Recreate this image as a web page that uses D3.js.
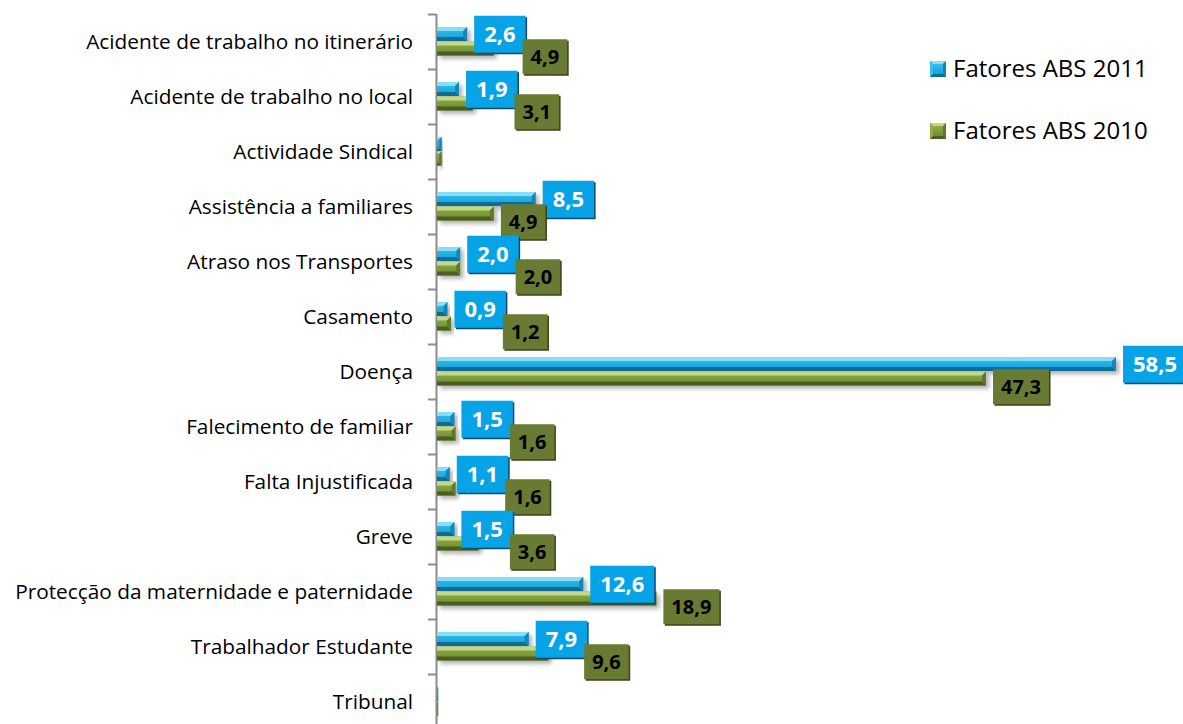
<!DOCTYPE html>
<html>
<head>
<meta charset="utf-8">
<script src="https://cdn.jsdelivr.net/npm/d3@7"></script>
<style>
  body { margin: 0; background: #fff; }
  svg { display: block; }
</style>
</head>
<body>
<div id="chart"></div>
<script>
// data
const categories = [
    "Acidente de trabalho no itinerário",
    "Acidente de trabalho no local",
    "Actividade Sindical",
    "Assistência a familiares",
    "Atraso nos Transportes",
    "Casamento",
    "Doença",
    "Falecimento de familiar",
    "Falta Injustificada",
    "Greve",
    "Protecção da maternidade e paternidade",
    "Trabalhador Estudante",
    "Tribunal"
];
const seriesNames = ["Fatores ABS 2011", "Fatores ABS 2010"];
const values2011 = [2.6, 1.9, 0.4, 8.5, 2.0, 0.9, 58.5, 1.5, 1.1, 1.5, 12.6, 7.9, 0.1];
const values2010 = [4.9, 3.1, 0.4, 4.9, 2.0, 1.2, 47.3, 1.6, 1.6, 3.6, 18.9, 9.6, 0.1];

const width = 1183, height = 724;
const font = "'Open Sans', 'Noto Sans', sans-serif";
const fmt = d3.formatLocale({decimal: ",", thousands: ".", grouping: [3], currency: ["", "€"]}).format(".1f");

const svg = d3.select("#chart").append("svg")
    .attr("width", width)
    .attr("height", height);

let defs = svg.append("defs");
let shadow = defs.append("filter").attr("id", "shadow")
    .attr("x", "-10%").attr("y", "-50%").attr("width", "130%").attr("height", "220%");
shadow.append("feDropShadow")
    .attr("dx", 3).attr("dy", 3).attr("stdDeviation", 2)
    .attr("flood-color", "#000").attr("flood-opacity", 0.3);

defs.append("clipPath").attr("id", "plotClip")
    .append("rect").attr("x", 0).attr("y", 14).attr("width", width).attr("height", height - 14);

// bevel colours for each series: top, face, bottom, end
const styles = [
    {top: "#86def8", faceA: "#33c0ee", faceB: "#149fd6", bottom: "#0c6c98", end: "#1585b8",
     box: "#06a3e6", boxEdge: "#0b4a6a", text: "#fff", size: 22, pad: 20, bh: 37},
    {top: "#c3d888", faceA: "#8fac48", faceB: "#6f8c30", bottom: "#4a5e22", end: "#5f7a2a",
     box: "#697b33", boxEdge: "#3a4519", text: "#000", size: 20, pad: 16, bh: 35}
];

styles.forEach((s, i) => {
    let g = defs.append("linearGradient").attr("id", "face" + i)
        .attr("x1", 0).attr("y1", 0).attr("x2", 0).attr("y2", 1);
    g.append("stop").attr("offset", "0%").attr("stop-color", s.faceA);
    g.append("stop").attr("offset", "100%").attr("stop-color", s.faceB);
});

let x = d3.scaleLinear()
    .domain([0, 58.5])
    .range([437, 1116]);

let y = d3.scaleBand()
    .domain(categories)
    .range([14, 729])
    .padding(0);

let sub = d3.scaleBand()
    .domain([0, 1])
    .range([13, 42])
    .padding(0);

let rows = categories.map((c, i) => ({cat: c, v: [values2011[i], values2010[i]]}));

// axis line, ticks at category boundaries and labels
svg.append("line")
    .attr("x1", 436.5).attr("x2", 436.5)
    .attr("y1", y(categories[0])).attr("y2", height)
    .attr("stroke", "#8c8c8c").attr("stroke-width", 2);

svg.selectAll(".tick").data(categories)
    .enter().append("line")
    .attr("x1", 428).attr("x2", 436)
    .attr("y1", d => y(d) + 0.5)
    .attr("y2", d => y(d) + 0.5)
    .attr("stroke", "#8c8c8c").attr("stroke-width", 2);

svg.selectAll(".catLabel").data(categories)
    .enter().append("text")
    .attr("x", 413)
    .attr("y", d => y(d) + y.bandwidth() / 2)
    .attr("dy", "0.35em")
    .attr("text-anchor", "end")
    .style("font-family", font)
    .style("font-size", "20.8px")
    .attr("fill", "#000")
    .text(d => d);

// bars with a bevelled look
let bars = svg.append("g");
rows.forEach(r => {
    r.v.forEach((v, s) => {
        let st = styles[s];
        let x0 = x(0), x1 = x(v);
        let y0 = y(r.cat) + sub(s), y1 = y0 + sub.bandwidth() - 0.5;
        let w = x1 - x0;
        let b = Math.min(4, w / 2, (y1 - y0) / 3);
        let g = bars.append("g").attr("filter", "url(#shadow)");
        g.append("rect")
            .attr("x", x0).attr("y", y0)
            .attr("width", Math.max(w, 0.5)).attr("height", y1 - y0)
            .attr("fill", "url(#face" + s + ")");
        g.append("polygon")
            .attr("points", [[x0, y0], [x1, y0], [x1 - b, y0 + b], [x0, y0 + b]].join(" "))
            .attr("fill", st.top);
        g.append("polygon")
            .attr("points", [[x0, y1], [x1, y1], [x1 - b, y1 - b], [x0, y1 - b]].join(" "))
            .attr("fill", st.bottom);
        g.append("polygon")
            .attr("points", [[x1, y0], [x1, y1], [x1 - b, y1 - b], [x1 - b, y0 + b]].join(" "))
            .attr("fill", st.end);
    });
});

// data labels in filled boxes
let labels = svg.append("g").attr("clip-path", "url(#plotClip)");
rows.forEach(r => {
    let blueBox = null;
    r.v.forEach((v, s) => {
        if (v < 0.5) return;
        let st = styles[s];
        let t = labels.append("text")
            .style("font-family", font)
            .style("font-size", st.size + "px")
            .style("font-weight", "bold")
            .attr("fill", st.text)
            .text(fmt(v));
        let tw = t.node().getComputedTextLength();
        let bw = tw + st.pad;
        let bh = st.bh;
        let left = x(v) + 7;
        let cy = y(r.cat) + sub(s) + sub.bandwidth() / 2;
        if (s === 1) {
            cy += 8;
            if (blueBox && left + bw > blueBox.left + 4) left = Math.max(left, blueBox.right - 3);
        }
        let top = cy - bh / 2;
        labels.insert("rect", () => t.node())
            .attr("x", left + 1.5).attr("y", top + 1.5)
            .attr("width", bw).attr("height", bh)
            .attr("fill", st.boxEdge);
        labels.insert("rect", () => t.node())
            .attr("x", left).attr("y", top)
            .attr("width", bw).attr("height", bh)
            .attr("fill", st.box);
        t.attr("x", left + bw / 2)
            .attr("y", cy)
            .attr("dy", "0.36em")
            .attr("text-anchor", "middle");
        if (s === 0) blueBox = {left: left, right: left + bw};
    });
});

// legend
let legend = svg.append("g");
seriesNames.forEach((name, i) => {
    let st = styles[i];
    let lx = 930, ly = 61 + i * 62, sz = 16, c = sz / 2;
    let g = legend.append("g").attr("transform", "translate(" + lx + "," + ly + ")");
    g.append("rect").attr("width", sz).attr("height", sz).attr("fill", "url(#face" + i + ")");
    g.append("polygon").attr("points", [[0, 0], [sz, 0], [c, c]].join(" ")).attr("fill", st.top);
    g.append("polygon").attr("points", [[sz, 0], [sz, sz], [c, c]].join(" ")).attr("fill", st.end);
    g.append("polygon").attr("points", [[0, sz], [sz, sz], [c, c]].join(" ")).attr("fill", st.bottom);
    g.append("polygon").attr("points", [[0, 0], [0, sz], [c, c]].join(" ")).attr("fill", st.faceA);
    g.append("rect").attr("x", 3).attr("y", 3).attr("width", sz - 6).attr("height", sz - 6)
        .attr("fill", "url(#face" + i + ")");
    legend.append("text")
        .attr("x", 953)
        .attr("y", ly + 16)
        .style("font-family", font)
        .style("font-size", "24px")
        .attr("fill", "#000")
        .text(name);
});
</script>
</body>
</html>
